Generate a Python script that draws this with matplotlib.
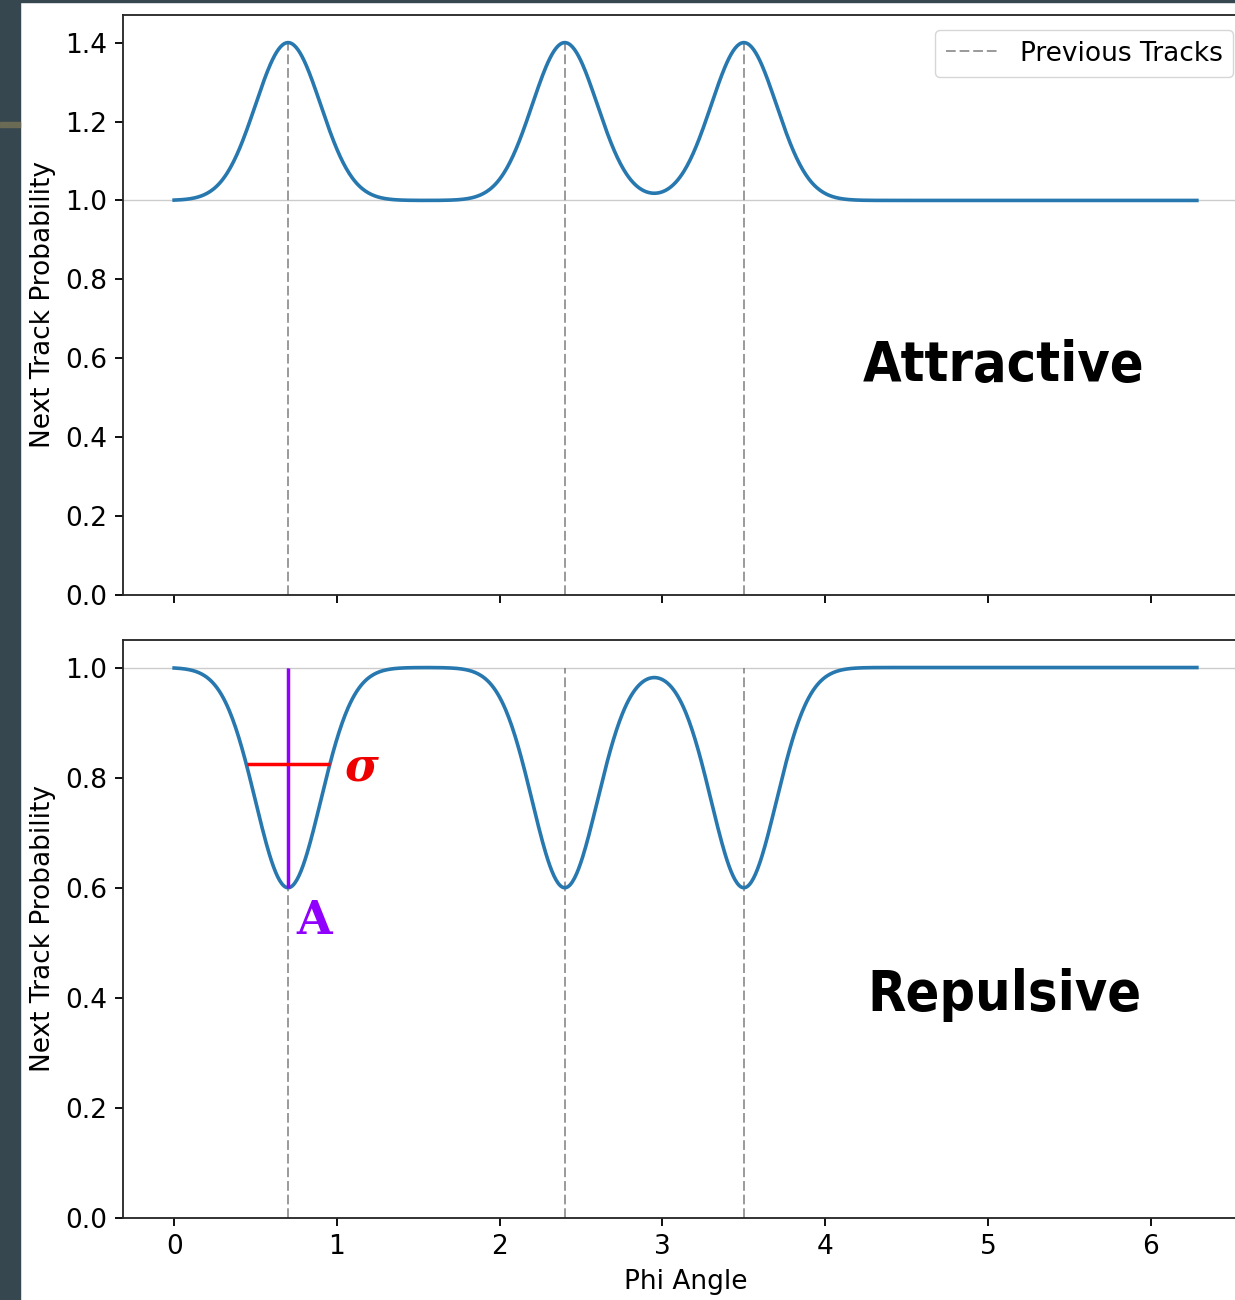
import numpy as np
import matplotlib
matplotlib.use("Agg")
import matplotlib.pyplot as plt
from matplotlib.patches import Rectangle
from matplotlib import font_manager

# ---- data ----
track_phis = [0.7, 2.4, 3.5]       # previous track angles
amplitude_attr = 0.4               # peak height above baseline (attractive)
amplitude_rep = -0.4               # dip depth (repulsive)
sigma = 0.2                        # gaussian width
baseline = 1.0
phi_max = 2 * np.pi
attr_yticks = [0.0, 0.2, 0.4, 0.6, 0.8, 1.0, 1.2, 1.4]
rep_yticks = [0.0, 0.2, 0.4, 0.6, 0.8, 1.0]
x_ticks = [0, 1, 2, 3, 4, 5, 6]
sigma_bar = (0.449, 0.959, 0.825)  # xmin, xmax, y
amp_bar = (0.7, 0.6, 1.0)          # x, ymin, ymax

phi = np.linspace(0, phi_max, 1000)

def curve(A):
    y = np.full_like(phi, baseline)
    for c in track_phis:
        y += A * np.exp(-(phi - c) ** 2 / (2 * sigma ** 2))
    return y

s = 1.65
fs = 19
plt.rcParams.update({
    "font.size": fs,
    "axes.linewidth": 0.8 * s,
    "axes.edgecolor": "#262626",
    "xtick.major.size": 3.5 * s, "ytick.major.size": 3.5 * s,
    "xtick.major.width": 0.8 * s, "ytick.major.width": 0.8 * s,
    "xtick.major.pad": 3.5 * s, "ytick.major.pad": 3.5 * s,
    "axes.labelpad": 4.0 * s,
})

W, H = 1235, 1300
fig = plt.figure(figsize=(W / 100, H / 100), dpi=100)
fig.patch.set_facecolor("white")

# screenshot frame strips
fig.add_artist(Rectangle((0, 0), 20 / W, 1, transform=fig.transFigure, color="#37474f", zorder=0))
fig.add_artist(Rectangle((0, 1 - 2 / H), 1, 2 / H, transform=fig.transFigure, color="#37474f", zorder=0))
fig.add_artist(Rectangle((0, 1 - 127 / H), 20 / W, 5 / H, transform=fig.transFigure, color="#6b6a55", zorder=1))

def ax_rect(l, r, t, b):
    return [l / W, 1 - b / H, (r - l) / W, (b - t) / H]

ax1 = fig.add_axes(ax_rect(123, 1248, 15, 595))
ax2 = fig.add_axes(ax_rect(123, 1248, 640, 1218))

xlim = (-0.05 * phi_max, 1.05 * phi_max)
line_color = "#2878b0"
dash = (0, (5, 2))

# attractive
ax1.axhline(baseline, color="#cccccc", lw=1.0, zorder=1)
ax1.plot(phi, curve(amplitude_attr), color=line_color, lw=2.6, zorder=3)
ax1.vlines(track_phis, 0, baseline + amplitude_attr, colors="gray", linestyles=[dash],
           lw=1.4, alpha=0.8, label="Previous Tracks", zorder=2)
ax1.set_xlim(*xlim)
ax1.set_ylim(0, 1.47)
ax1.set_yticks(attr_yticks)
ax1.set_xticks(x_ticks)
ax1.set_xticklabels([])
ax1.set_ylabel("Next Track Probability")
ax1.legend(loc="upper right", bbox_to_anchor=(0.9867, 0.974), borderaxespad=0,
           handlelength=2.0, fontsize=fs)

# repulsive
ax2.axhline(baseline, color="#cccccc", lw=1.0, zorder=1)
ax2.plot(phi, curve(amplitude_rep), color=line_color, lw=2.6, zorder=3)
ax2.vlines(track_phis, 0, baseline, colors="gray", linestyles=[dash], lw=1.4, alpha=0.8, zorder=2)
ax2.set_xlim(*xlim)
ax2.set_ylim(0, 1.05)
ax2.set_yticks(rep_yticks)
ax2.set_xticks(x_ticks)
ax2.set_xlabel("Phi Angle")
ax2.set_ylabel("Next Track Probability")

# annotations
ax2.vlines(amp_bar[0], amp_bar[1], amp_bar[2], colors="#8f00ff", lw=2.5, zorder=5)
ax2.hlines(sigma_bar[2], sigma_bar[0], sigma_bar[1], colors="#ff0000", lw=2.5, zorder=5)
ax2.text(1.15, 0.818, "σ", color="#ee0000", fontsize=33, fontfamily="DejaVu Serif",
         fontweight="bold", fontstyle="italic", ha="center", va="center")
ax2.text(0.86, 0.54, "A", color="#8f00ff", fontsize=33, fontfamily="DejaVu Serif",
         fontweight="bold", ha="center", va="center")

big = font_manager.FontProperties(family="DejaVu Sans", weight="bold", stretch="condensed", size=40)
fig.text(1004 / W, 1 - 366 / H, "Attractive", fontproperties=big, ha="center", va="center")
fig.text(1004 / W, 1 - 995 / H, "Repulsive", fontproperties=big, ha="center", va="center")

fig.savefig("out.png", dpi=100)
